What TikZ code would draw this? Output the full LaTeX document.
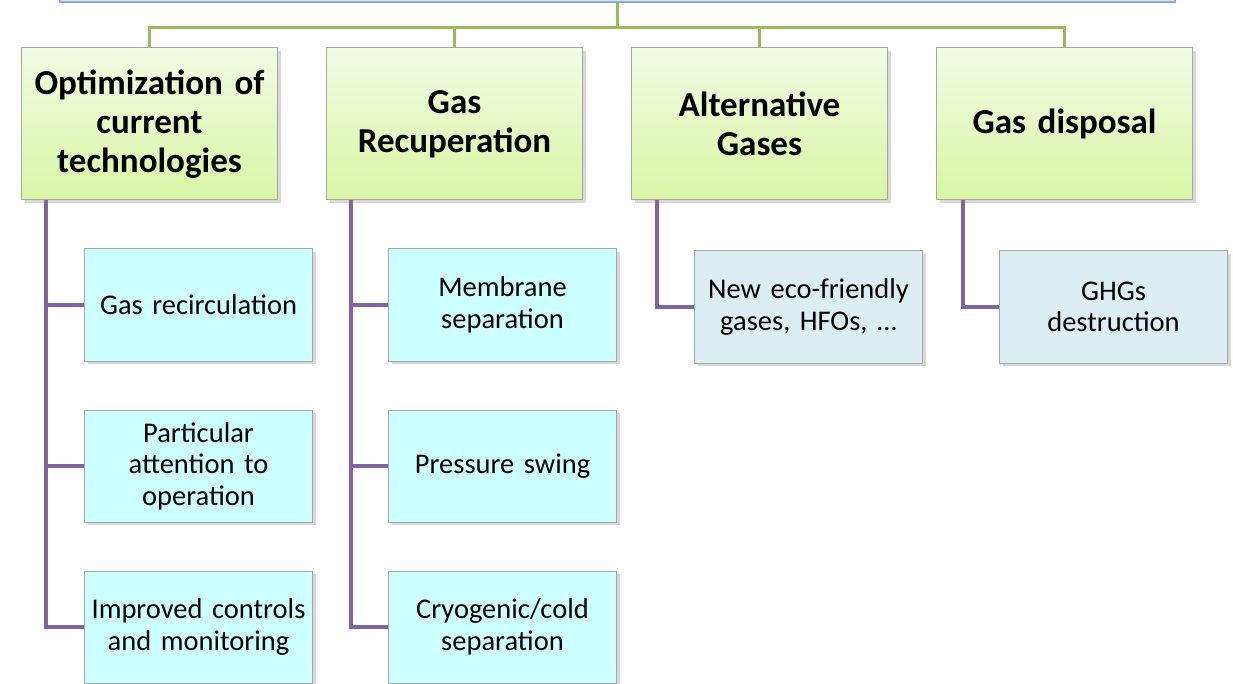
\documentclass[tikz,border=0pt]{standalone}
\usepackage{fontspec}
\setmainfont{Carlito}
\usepackage{tikz}
\usetikzlibrary{positioning, calc, shadows}

\definecolor{headblue}{HTML}{8EA9DB}
\definecolor{headfill}{HTML}{DCE6F2}
\definecolor{linkgreen}{HTML}{9BBB59}
\definecolor{linkpurple}{HTML}{8064A2}
\definecolor{topictop}{HTML}{F3FBE4}
\definecolor{topicbottom}{HTML}{D8F6A4}
\definecolor{leafcyan}{HTML}{CCFFFF}
\definecolor{leafgrey}{HTML}{DAEEF3}

\begin{document}
\begin{tikzpicture}[
  x=1pt, y=1pt,
  node distance=48pt,
  headbox/.style={rectangle, draw=headblue, fill=headfill, line width=1.5pt, minimum width=1115pt, minimum height=40pt},
  topic/.style={rectangle, draw=black!35, line width=1pt, top color=topictop, bottom color=topicbottom, minimum width=256pt, minimum height=152pt, text width=248pt, inner sep=2pt, align=center, font=\fontsize{35}{39}\selectfont\bfseries, drop shadow={shadow xshift=3pt, shadow yshift=-3pt, opacity=0.3}},
  item/.style={rectangle, draw=black!35, line width=1pt, fill=leafcyan, minimum width=228pt, minimum height=112pt, text width=224pt, inner sep=2pt, align=center, font=\fontsize{28.5}{31.5}\selectfont, drop shadow={shadow xshift=3pt, shadow yshift=-3pt, opacity=0.3}},
  altitem/.style={item, fill=leafgrey},
  trunk/.style={linkgreen, line width=3pt},
  branch/.style={linkpurple, line width=3.5pt}
]
\useasboundingbox (0,0) rectangle (1233,-684);
\fill[white] (0,0) rectangle (1233,-684);

% head box, only its lower edge shows
\node[headbox, anchor=south] (head) at (617.5,-3) {};

% main topics
\node[topic] (opt) at (149.5,-124) {Optimization of\\current\\technologies};
\node[topic, right=of opt] (recup) {Gas\\Recuperation};
\node[topic, right=of recup] (alt) {Alternative\\Gases};
\node[topic, right=of alt] (disp) {Gas disposal};

% sub items
\node[item, below=48pt of opt, xshift=49pt] (recirc) {Gas recirculation};
\node[item, below=of recirc] (attn) {Particular\\attention to\\operation};
\node[item, below=of attn] (ctrl) {Improved controls\\and monitoring};

\node[item, below=48pt of recup, xshift=48pt] (membr) {Membrane\\separation};
\node[item, below=of membr] (swing) {Pressure swing};
\node[item, below=of swing] (cryo) {Cryogenic/cold\\separation};

\node[altitem, below=50pt of alt, xshift=49pt] (eco) {New eco-friendly\\gases, HFOs, \dots};
\node[altitem, below=50pt of disp, xshift=49pt] (ghg) {GHGs\\destruction};

% green links
\draw[trunk] (head.south) -- ++(0,-25pt) coordinate (fork);
\draw[trunk] (fork) -| (opt.north);
\draw[trunk] (fork) -| (recup.north);
\draw[trunk] (fork) -| (alt.north);
\draw[trunk] (fork) -| (disp.north);

% purple links
\foreach \child in {recirc, attn, ctrl}
  \draw[branch] ($(opt.south west)+(25pt,0)$) |- (\child.west);
\foreach \child in {membr, swing, cryo}
  \draw[branch] ($(recup.south west)+(25pt,0)$) |- (\child.west);
\draw[branch] ($(alt.south west)+(26pt,0)$) |- (eco.west);
\draw[branch] ($(disp.south west)+(27pt,0)$) |- (ghg.west);

\end{tikzpicture}
\end{document}
